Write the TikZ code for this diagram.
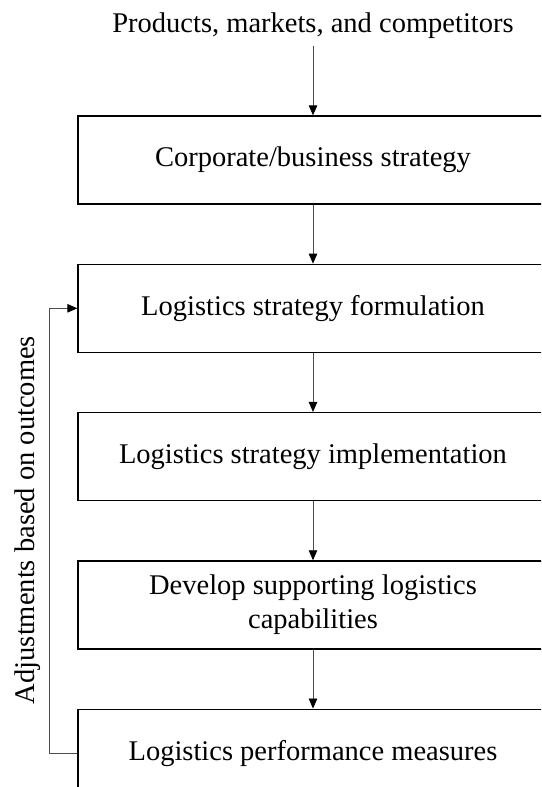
\documentclass[tikz,border=0pt]{standalone}
\usepackage{fontspec}
\setmainfont{Liberation Serif}
\usepackage{tikz}
\usetikzlibrary{positioning,arrows.meta}
\tikzset{
  stagebox/.style={rectangle,draw=black,line width=1.3pt,
    minimum width=470pt,minimum height=88pt,align=center,
    inner sep=0pt,font=\fontsize{28.5}{34}\selectfont},
  arrow/.style={-{Triangle[length=10pt,width=8.5pt,color=black]},draw=black!70,line width=0.8pt},
  note/.style={font=\fontsize{28.5}{34}\selectfont,inner sep=0pt}
}

\begin{document}
\begin{tikzpicture}[x=1pt,y=-1pt,node distance=59pt]
  \useasboundingbox (0,0) rectangle (541,787);
  \clip (0,0) rectangle (541,787);
  \node[note,anchor=base] (inputs) at (313,32) {Products, markets, and competitors};
  \node[stagebox] (corp) at (313,160) {Corporate/business strategy};
  \node[stagebox,below=of corp] (form) {Logistics strategy formulation};
  \node[stagebox,below=of form] (impl) {Logistics strategy implementation};
  \node[stagebox,below=of impl] (capab) {Develop supporting logistics\\capabilities};
  \node[stagebox,below=of capab] (perf) {Logistics performance measures};
  \node[note,rotate=90,anchor=base] (adjust) at (34,520) {Adjustments based on outcomes};
  \draw[arrow,shorten <=8pt] (inputs) -- (corp);
  \draw[arrow] (corp) -- (form);
  \draw[arrow] (form) -- (impl);
  \draw[arrow] (impl) -- (capab);
  \draw[arrow] (capab) -- (perf);
  % feedback loop on the left
  \draw[arrow] (perf.west) -- ++(-28,0) |- (form.west);
\end{tikzpicture}
\end{document}
